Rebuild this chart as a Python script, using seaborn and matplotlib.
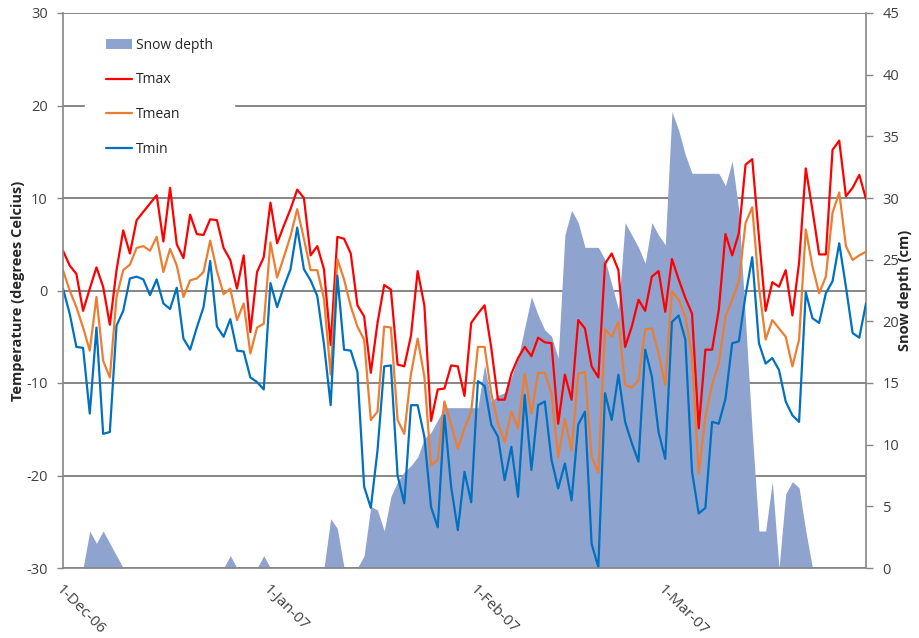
import pandas as pd
import matplotlib
matplotlib.use("Agg")
import matplotlib.pyplot as plt
from matplotlib.ticker import MultipleLocator
from matplotlib.patches import Patch
from matplotlib.lines import Line2D
import seaborn as sns

# -------------------- data (daily, 1-Dec-06 .. 31-Mar-07) -------------------- #
start_date = "2006-12-01"

tmax = [4.3, 2.7, 1.8, -2.2, 0.2, 2.5, 0.4, -3.7, 2.2, 6.5,
        4.0, 7.6, 8.5, 9.4, 10.3, 5.3, 11.1, 5.0, 3.5, 8.2,
        6.1, 6.0, 7.7, 7.6, 4.6, 3.3, 0.2, 3.8, -4.5, 2.0,
        3.6, 9.5, 5.1, 7.0, 8.8, 10.9, 10.0, 3.8, 4.8, 2.3,
        -5.9, 5.8, 5.6, 4.0, -1.6, -2.8, -8.9, -3.5, 0.6, 0.1,
        -8.0, -8.2, -4.9, 2.1, -1.6, -14.1, -10.7, -10.6, -8.1, -8.2,
        -11.4, -3.5, -2.5, -1.6, -6.2, -11.8, -11.8, -9.0, -7.3, -6.1,
        -7.1, -5.1, -5.6, -5.7, -14.4, -9.1, -11.8, -3.2, -4.1, -8.2,
        -9.4, 2.9, 4.0, 2.2, -6.1, -3.9, -1.0, -2.2, 1.5, 2.1,
        -2.3, 3.4, 1.2, -0.8, -2.5, -14.9, -6.4, -6.4, -2.1, 6.1,
        3.8, 6.2, 13.6, 14.2, 5.8, -2.2, 0.9, 0.4, 2.2, -2.7,
        3.0, 13.2, 8.7, 3.9, 3.9, 15.2, 16.2, 10.2, 11.1, 12.5,
        9.9]

tmean = [2.2, 0.0, -1.8, -4.0, -6.5, -0.7, -7.6, -9.4, -0.7, 2.2,
         2.8, 4.6, 4.8, 4.3, 5.8, 2.0, 4.5, 2.7, -0.7, 1.1,
         1.3, 2.0, 5.4, 2.1, -0.4, 0.2, -3.2, -1.4, -6.8, -4.0,
         -3.6, 5.2, 1.4, 3.6, 5.9, 8.8, 5.6, 2.2, 2.2, -0.9,
         -9.1, 3.4, 1.2, -1.7, -3.9, -5.3, -14.0, -13.1, -3.9, -4.0,
         -14.0, -15.5, -9.0, -5.2, -9.3, -18.9, -18.3, -12.0, -14.5, -17.1,
         -14.9, -13.1, -6.1, -6.1, -11.1, -14.4, -16.4, -13.1, -14.9, -9.0,
         -13.3, -8.9, -8.9, -11.1, -18.0, -13.9, -17.3, -9.0, -8.8, -18.0,
         -19.7, -4.2, -5.0, -3.4, -10.2, -10.5, -9.7, -4.2, -4.1, -6.8,
         -10.2, -0.1, -1.0, -2.8, -7.1, -19.8, -13.6, -10.2, -7.9, -2.8,
         -1.0, 1.0, 7.3, 9.0, 0.4, -5.3, -3.2, -4.1, -5.0, -8.2,
         -5.3, 6.6, 2.6, -0.3, 1.5, 8.4, 10.6, 4.8, 3.3, 3.8,
         4.2]

tmin = [0.2, -2.5, -6.1, -6.2, -13.3, -4.0, -15.5, -15.3, -3.8, -2.2,
        1.3, 1.5, 1.2, -0.5, 1.2, -1.4, -2.0, 0.3, -5.2, -6.4,
        -4.0, -1.8, 3.2, -3.9, -5.0, -3.1, -6.5, -6.6, -9.4, -9.9,
        -10.7, 0.8, -1.8, 0.4, 2.3, 6.8, 2.3, 1.1, -0.6, -5.8,
        -12.4, 1.6, -6.4, -6.5, -8.8, -21.2, -23.5, -17.3, -8.2, -8.1,
        -20.0, -23.0, -12.4, -12.4, -15.8, -23.4, -25.6, -13.5, -21.2, -25.9,
        -19.6, -22.9, -9.8, -10.3, -14.5, -15.8, -20.5, -16.9, -22.3, -11.3,
        -19.4, -12.4, -12.0, -18.3, -21.4, -18.7, -22.7, -14.5, -13.1, -27.4,
        -29.9, -11.1, -14.0, -9.1, -14.2, -16.5, -18.5, -6.4, -9.3, -15.3,
        -18.2, -3.4, -2.7, -5.3, -19.6, -24.1, -23.5, -14.2, -14.4, -11.7,
        -5.7, -5.5, -0.5, 3.6, -5.7, -7.9, -7.3, -8.6, -12.0, -13.5,
        -14.2, -0.2, -3.0, -3.5, -0.3, 1.0, 5.1, 0.4, -4.6, -5.1,
        -1.4]

snow = [0, 0, 0, 0, 3, 2, 3, 2, 1, 0,
        0, 0, 0, 0, 0, 0, 0, 0, 0, 0,
        0, 0, 0, 0, 0, 1, 0, 0, 0, 0,
        1, 0, 0, 0, 0, 0, 0, 0, 0, 0,
        4, 3.2, 0, 0, 0, 1, 5, 4.7, 3, 5.8,
        7, 7.8, 8.3, 9, 10.5, 11, 12, 13, 13, 13,
        13, 13, 13, 16.5, 13.5, 14, 14.2, 15.5, 17, 19.5,
        22, 20.5, 19.3, 18.8, 17, 27, 29, 28, 26, 26,
        26, 25, 23, 21, 28, 27, 26, 24.7, 28, 27,
        26.2, 37, 35.5, 33.5, 32, 32, 32, 32, 32, 31,
        33, 29, 20, 11, 3, 3, 7, 0, 6, 7,
        6.5, 3, 0, 0, 0, 0, 0, 0, 0, 0,
        0]

month_ticks = ["2006-12-01", "2007-01-01", "2007-02-01", "2007-03-01"]
month_labels = ["1-Dec-06", "1-Jan-07", "1-Feb-07", "1-Mar-07"]
temp_ticks = [-30, -20, -10, 0, 10, 20, 30]
snow_ticks = [0, 5, 10, 15, 20, 25, 30, 35, 40, 45]

colores = {"Tmax": "#FF0000", "Tmean": "#ED7D31", "Tmin": "#0070C0"}
color_nieve = "#8FA3CF"
gris = "#868686"
texto = "#404040"

dates = pd.date_range(start_date, periods=len(tmax), freq="D")
df = pd.DataFrame({"Date": dates, "Tmax": tmax, "Tmean": tmean,
                   "Tmin": tmin, "Snow depth": snow})
df_long = df.melt(id_vars="Date", value_vars=["Tmax", "Tmean", "Tmin"],
                  var_name="Serie", value_name="Temp")

# -------------------- plot -------------------- #
sns.set_style("white")
plt.rcParams["font.family"] = ["Open Sans", "DejaVu Sans"]
plt.rcParams["axes.unicode_minus"] = False

fig = plt.figure(figsize=(9.2, 6.38), dpi=100)
ax = fig.add_axes([63 / 920, 1 - 568 / 638, 803 / 920, 555 / 638])
ax2 = ax.twinx()
ax.set_zorder(ax2.get_zorder() + 1)
ax.patch.set_visible(False)

# snow area on the back axis, gridlines under it
ax2.fill_between(df["Date"], df["Snow depth"], color=color_nieve, lw=0, zorder=2)
ax2.set_ylim(0, 45)
ax2.set_yticks(snow_ticks)
ax2.yaxis.set_minor_locator(MultipleLocator(7.5))
ax2.yaxis.remove_overlapping_locs = False
ax2.grid(which="minor", axis="y", color=gris, lw=1.4, zorder=1)
ax2.set_axisbelow(True)
ax2.tick_params(axis="y", which="minor", length=0)
ax2.tick_params(axis="y", which="major", length=5, width=1, color=gris,
                labelsize=10.5, labelcolor=texto, pad=7, direction="out")

# temperatures
sns.lineplot(data=df_long, x="Date", y="Temp", hue="Serie", palette=colores,
             lw=1.6, ax=ax, legend=False)
ax.set_ylim(-30, 30)
ax.set_yticks(temp_ticks)
ax.set_xlim(dates[0], dates[-1])
ax.set_xticks(pd.to_datetime(month_ticks))
ax.set_xticklabels(month_labels, rotation=-45, ha="left", va="top",
                   rotation_mode="anchor")
ax.tick_params(axis="both", length=4, width=1, color=gris, labelsize=10.5,
               labelcolor=texto, direction="out")
ax.tick_params(axis="x", pad=6, labelsize=11)
ax.tick_params(axis="y", pad=7)
ax.set_xlabel("")

ax.set_ylabel("Temperature (degrees Celcius)", fontsize=10.5,
              fontweight="bold", color="#262626")
ax.yaxis.set_label_coords(-0.047, 0.5)
ax2.set_ylabel("Snow depth (cm)", fontsize=10.5, fontweight="bold",
               color="#262626")
ax2.yaxis.set_label_coords(1.040, 0.5)

for s in ["top", "right"]:
    ax.spines[s].set_visible(False)
for s in ["top", "left", "bottom"]:
    ax2.spines[s].set_visible(False)
for s in ["left", "bottom"]:
    ax.spines[s].set_color(gris)
    ax.spines[s].set_linewidth(1.2)
ax2.spines["right"].set_color(gris)
ax2.spines["right"].set_linewidth(1.2)

handles = [Patch(facecolor=color_nieve, edgecolor="none")] + \
          [Line2D([], [], color=colores[k], lw=1.6) for k in ["Tmax", "Tmean", "Tmin"]]
labels = ["Snow depth", "Tmax", "Tmean", "Tmin"]
leg = ax.legend(handles, labels, loc="upper left", bbox_to_anchor=(0.027, 0.993),
                frameon=True, fancybox=False, facecolor="white", edgecolor="white",
                framealpha=1, fontsize=10, labelspacing=1.42, handlelength=1.9,
                handletextpad=0.3, borderpad=1.5, borderaxespad=0)
for t in leg.get_texts():
    t.set_color("#262626")

fig.savefig("out.png", dpi=100)
